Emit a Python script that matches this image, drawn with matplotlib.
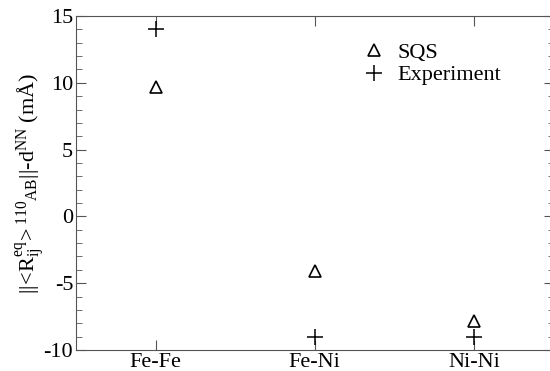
import matplotlib
matplotlib.use("Agg")
import matplotlib.pyplot as plt
from matplotlib.ticker import MultipleLocator

categories = ["Fe-Fe", "Fe-Ni", "Ni-Ni"]
sqs = [9.7, -4.1, -7.8]
experiment = [14.0, -9.0, -9.0]

plt.rcParams['font.family'] = ['Liberation Serif', 'DejaVu Serif']
plt.rcParams['mathtext.fontset'] = 'custom'
plt.rcParams['mathtext.rm'] = 'Liberation Serif'
plt.rcParams['mathtext.it'] = 'Liberation Serif'
plt.rcParams['mathtext.bf'] = 'Liberation Serif:bold'
plt.rcParams['axes.unicode_minus'] = False

fig = plt.figure(figsize=(5.5, 3.71), dpi=100)
ax = fig.add_axes([76/550, 1-350/371, (553.5-76)/550, (350-16)/371])

x = list(range(1, len(categories) + 1))
ax.plot(x, sqs, linestyle='none', marker='^', markersize=9, markerfacecolor='none',
        markeredgecolor='black', markeredgewidth=1.2, label='SQS')
ax.plot(x, experiment, linestyle='none', marker='+', markersize=11, color='black',
        markeredgewidth=1.1, label='Experiment')

ax.set_xlim(0.5, 3.5)
ax.set_ylim(-10, 15)
ax.set_xticks(x)
ax.set_xticklabels(categories, fontsize=16)
ax.yaxis.set_major_locator(MultipleLocator(5))
ax.yaxis.set_minor_locator(MultipleLocator(1))
ax.tick_params(axis='both', which='both', direction='in', top=True, right=True, labelsize=16,
               color='#555555')
ax.tick_params(axis='y', which='major', length=7, pad=2)
ax.tick_params(axis='y', which='minor', length=4)
ax.tick_params(axis='x', which='major', length=7, pad=2)
for s in ax.spines.values():
    s.set_color('#555555')

ax.set_ylabel(r"$\mathrm{||\!<\!R_{ij}^{eq}\!>^{110}{}_{AB}||\text{-}d^{NN}}$ (mÅ)", fontsize=16)
ax.yaxis.set_label_coords(-0.06, 0.5)

ax.legend(loc='upper left', bbox_to_anchor=(0.57, 0.955), frameon=False, fontsize=16,
          handletextpad=0.4, labelspacing=0.1, handlelength=1.3, borderpad=0)

fig.savefig("out.png", dpi=100)
